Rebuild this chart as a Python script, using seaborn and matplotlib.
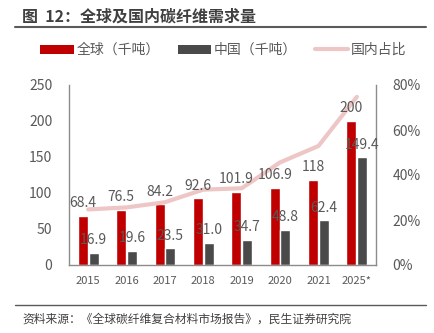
import matplotlib
matplotlib.use("Agg")
import matplotlib.pyplot as plt
import seaborn as sns
import pandas as pd
from matplotlib.patches import Patch
from matplotlib.lines import Line2D
from matplotlib.ticker import FuncFormatter

years = ["2015", "2016", "2017", "2018", "2019", "2020", "2021", "2025*"]
global_demand = [68.4, 76.5, 84.2, 92.6, 101.9, 106.9, 118, 200]
china_demand = [16.9, 19.6, 23.5, 31.0, 34.7, 48.8, 62.4, 149.4]
china_share = [0.247, 0.256, 0.279, 0.335, 0.341, 0.456, 0.529, 0.747]
global_labels = ["68.4", "76.5", "84.2", "92.6", "101.9", "106.9", "118", "200"]
china_labels = ["16.9", "19.6", "23.5", "31.0", "34.7", "48.8", "62.4", "149.4"]
series_names = ["全球（千吨）", "中国（千吨）", "国内占比"]
left_ticks = [0, 50, 100, 150, 200, 250]
right_ticks = [0, 0.2, 0.4, 0.6, 0.8]

sns.set_theme(style="white")
plt.rcParams["font.family"] = ["Noto Sans CJK SC", "DejaVu Sans"]

RED = "#C00000"
DARK = "#4A4A4A"
PINK = "#EEC6C6"
GRAY = "#595959"

df = pd.DataFrame({
    "year": years * 2,
    "value": global_demand + china_demand,
    "series": [series_names[0]] * len(years) + [series_names[1]] * len(years),
})

fig = plt.figure(figsize=(4.34, 3.33), dpi=100)
ax = fig.add_axes([69 / 434, 1 - 265 / 333, (376 - 69) / 434, (265 - 85) / 333])

sns.barplot(data=df, x="year", y="value", hue="series", order=years,
            hue_order=series_names[:2], palette=[RED, DARK], width=0.56,
            gap=0.06, saturation=1, legend=False, ax=ax)
ax.set_ylim(0, 250)
ax.set_yticks(left_ticks)
ax.set_xlim(-0.5, len(years) - 0.5)
ax.set_xlabel("")
ax.set_ylabel("")
ax.tick_params(axis="y", labelsize=10, colors=GRAY, length=0, pad=12)
ax.tick_params(axis="x", labelsize=8, colors=GRAY, length=0, pad=8)
for s in ["top", "right"]:
    ax.spines[s].set_visible(False)
for s in ["left", "bottom"]:
    ax.spines[s].set_color("#8C8C8C")
    ax.spines[s].set_linewidth(1)

ax2 = ax.twinx()
sns.lineplot(x=list(range(len(years))), y=china_share, color=PINK, linewidth=3,
             ax=ax2, legend=False)
ax2.set_ylim(0, 0.8)
ax2.set_yticks(right_ticks)
ax2.yaxis.set_major_formatter(FuncFormatter(lambda v, p: f"{v*100:.0f}%"))
ax2.tick_params(axis="y", labelsize=10, colors=GRAY, length=0, pad=12)
ax2.set_ylabel("")
for s in ["top", "left", "bottom"]:
    ax2.spines[s].set_visible(False)
ax2.spines["right"].set_color("#8C8C8C")
ax2.spines["right"].set_linewidth(1)

containers = ax.containers
for cont, labels in zip(containers, [global_labels, china_labels]):
    for bar, lab in zip(cont, labels):
        x = bar.get_x() + bar.get_width() / 2
        y = bar.get_height()
        ax2.annotate(lab, xy=(x, y), xycoords=ax.transData,
                     xytext=(0, 4), textcoords="offset points",
                     ha="center", va="bottom", fontsize=10, color=GRAY,
                     zorder=10)

handles = [Patch(facecolor=RED, edgecolor="none"),
           Patch(facecolor=DARK, edgecolor="none"),
           Line2D([0], [0], color=PINK, linewidth=3)]
fig.legend(handles, series_names, loc="center", bbox_to_anchor=(0.515, 1 - 50 / 333),
           ncol=3, frameon=False, fontsize=10, handlelength=2.4, handleheight=0.6,
           handletextpad=0.2, columnspacing=1.3, labelcolor=GRAY)

fig.text(22 / 434, 1 - 17 / 333, "图  12：全球及国内碳纤维需求量", fontsize=11.5,
         fontweight="bold", color="#404040", ha="left", va="center")
fig.add_artist(Line2D([15 / 434, 426 / 434], [1 - 27 / 333, 1 - 27 / 333],
                      color="#5A5A5A", linewidth=1.5))
fig.add_artist(Line2D([15 / 434, 426 / 434], [1 - 305 / 333, 1 - 305 / 333],
                      color="#5A5A5A", linewidth=1))
fig.text(22 / 434, 1 - 319 / 333, "资料来源：《全球碳纤维复合材料市场报告》，民生证券研究院",
         fontsize=8.5, color="#404040", ha="left", va="center")

fig.savefig("out.png", dpi=100)
